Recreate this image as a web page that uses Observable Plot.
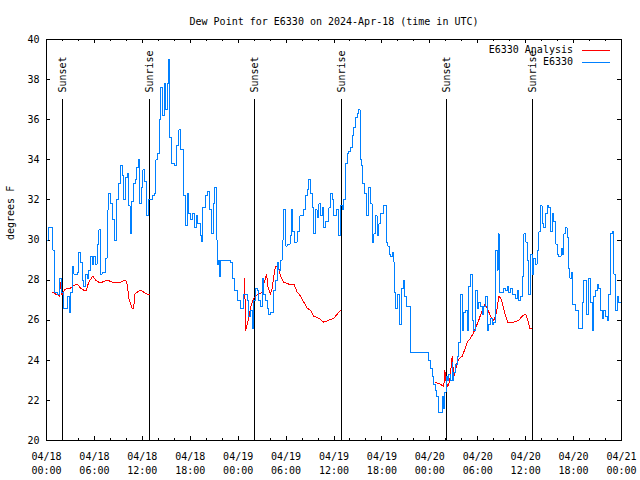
<!DOCTYPE html>
<html><head><meta charset="utf-8">
<script src="https://cdn.jsdelivr.net/npm/d3@7"></script>
<script src="https://cdn.jsdelivr.net/npm/@observablehq/plot@0.6"></script>
<style>
body{margin:0;background:#fff;}
#chart{width:640px;height:480px;}
#chart svg path, #chart svg line, #chart svg rect{shape-rendering:crispEdges;}
</style></head><body><div id="chart"></div>
<script>
const title = "Dew Point for E6330 on 2024-Apr-18 (time in UTC)";
const yLabel = "degrees F";
const seriesNames = ["E6330 Analysis", "E6330"];
const seriesColors = ["#ff0000", "#0080ff"];
const startUTC = Date.UTC(2024, 3, 18);

// E6330 observations: hours since 04/18 00:00 UTC and dew point (F)
const obsHours = [0,0.25,0.81,0.94,1.38,1.63,1.88,2.17,2.63,2.82,3.01,3.22,3.44,3.88,4.04,4.26,4.47,4.67,4.88,5.10,5.30,5.51,5.72,5.92,6.14,6.35,6.55,6.76,6.97,7.39,7.60,7.70,7.80,8.01,8.26,8.51,8.77,9.02,9.27,9.52,9.64,9.89,10.14,10.31,10.46,10.64,10.89,11.14,11.27,11.46,11.65,11.90,12.08,12.27,12.52,12.77,13.02,13.27,13.52,13.71,13.90,14.09,14.28,14.53,14.78,14.96,15.09,15.28,15.46,15.65,16.03,16.28,16.59,16.84,17.16,17.41,17.66,17.84,18.03,18.28,18.53,18.72,18.91,19.28,19.41,19.53,19.91,20.16,20.41,20.66,20.85,21.04,21.29,21.41,21.54,21.66,21.85,23.04,23.29,23.54,23.92,24.29,24.63,25.13,25.33,25.54,25.76,25.96,26.17,26.38,26.58,26.80,27.01,27.21,27.42,27.64,27.84,28.05,28.39,28.68,28.89,29.09,29.30,29.51,29.64,29.93,30.14,30.55,30.68,30.84,31.05,31.39,31.72,32.14,32.43,32.68,32.85,33.06,33.27,33.47,33.68,33.90,34.10,34.31,34.52,34.72,34.94,35.15,35.35,35.56,35.78,35.98,36.31,36.60,36.81,37.03,37.23,37.44,37.65,37.85,38.07,38.28,38.48,38.69,38.91,39.07,39.26,39.44,39.57,39.82,40.07,40.32,40.57,40.78,40.98,41.20,41.41,41.61,41.82,42.16,42.57,42.74,42.91,43.08,43.33,43.49,43.61,43.74,43.95,44.20,44.42,44.67,44.83,45.04,45.58,47.83,48.08,48.30,48.46,48.65,48.84,49.09,49.55,49.75,49.88,50.03,50.21,50.38,50.59,50.80,50.90,51.00,51.21,51.43,51.63,51.84,52.05,52.25,52.47,52.68,52.88,53.09,53.31,53.51,53.72,53.93,54.13,54.35,54.56,54.76,54.97,55.19,55.39,55.60,55.81,56.01,56.22,56.44,56.54,56.69,56.98,57.26,57.48,57.69,57.89,58.10,58.35,58.73,58.98,59.14,59.35,59.57,59.77,59.98,60.19,60.39,60.61,60.82,61.02,61.23,61.45,61.65,61.86,62.07,62.27,62.48,62.70,62.90,63.11,63.32,63.52,63.74,63.95,64.11,64.43,64.61,64.78,64.99,65.20,65.36,65.55,65.74,65.87,66.24,66.65,67.08,67.28,67.62,67.87,68.12,68.33,68.53,68.75,68.96,69.16,69.37,69.62,69.79,70.00,70.21,70.41,70.62,70.84,71.04,71.25,71.46,71.66,72.0];
const obsValues = [30.0,30.6,29.5,27.4,27.3,28.1,27.4,26.6,27.2,26.4,27.4,28.7,28.3,28.4,29.4,28.9,28.0,27.7,28.3,28.1,28.5,29.2,28.8,29.2,28.8,29.8,30.5,28.3,28.4,29.1,30.3,31.5,32.3,31.8,31.0,30.0,32.0,32.8,33.7,33.2,32.0,33.1,33.3,31.7,30.3,31.9,32.8,33.0,33.6,34.0,31.8,32.6,33.5,32.9,31.2,32.0,32.0,32.2,32.3,34.0,34.3,36.0,37.6,36.2,37.8,36.5,37.8,39.0,35.1,33.8,33.7,34.7,35.5,34.5,32.2,30.7,32.3,31.3,31.0,31.3,30.6,31.2,30.8,30.2,29.9,31.6,32.2,32.4,31.5,30.3,31.8,32.6,30.0,28.8,29.0,28.2,29.0,28.9,28.1,27.5,27.0,26.6,27.3,27.0,26.2,26.5,25.6,27.0,27.6,27.5,27.0,26.7,28.1,27.3,27.0,26.6,26.3,26.4,27.5,28.0,28.9,28.5,29.0,30.0,31.5,29.7,29.8,30.2,31.5,30.4,29.9,30.4,31.2,31.5,32.2,32.5,33.0,32.3,31.6,30.3,31.5,31.1,31.8,31.2,31.6,30.6,30.9,30.9,31.6,32.3,32.0,31.2,31.5,30.2,31.7,31.5,32.0,33.8,34.3,34.4,34.6,35.2,35.6,36.1,36.3,36.5,34.0,33.7,32.8,32.3,31.2,32.6,31.8,29.9,30.3,31.2,30.2,30.8,31.3,31.7,29.9,29.7,29.3,29.2,29.4,28.9,27.4,26.6,27.3,25.8,27.6,28.0,27.2,26.7,24.4,24.0,23.6,23.2,22.8,22.5,22.2,21.4,22.2,21.6,22.4,23.2,23.0,23.3,23.0,23.9,23.0,23.4,23.8,24.2,24.9,27.3,25.5,26.4,26.5,25.5,27.7,28.3,26.0,25.5,27.5,26.6,26.9,26.7,26.3,26.7,27.2,25.5,25.8,26.1,25.8,25.9,29.5,28.5,30.3,27.4,27.4,27.6,27.5,27.7,27.4,27.6,27.3,27.1,27.5,27.0,27.2,28.2,30.3,29.9,29.0,27.3,29.3,28.3,29.1,28.8,29.5,30.4,31.7,30.8,30.6,31.3,31.7,31.6,30.4,31.3,30.9,29.8,29.3,29.2,29.6,29.3,30.3,30.6,30.1,28.6,28.1,28.4,26.8,26.5,25.6,26.9,28.0,26.3,28.1,26.9,25.5,27.2,27.5,27.8,27.6,26.5,26.1,26.5,26.2,26.0,27.3,30.3,30.4,28.3,26.5,27.2,26.9,27.2];

// E6330 Analysis: segment id, hours since 04/18 00:00 UTC, dew point (F)
const anaSegment = [1,1,1,1,1,1,1,1,1,1,1,1,1,1,1,1,1,1,1,1,1,1,1,1,1,1,1,1,1,1,1,1,1,1,
  2,2,2,2,2,2,2,2,2,2,2,2,2,2,2,2,2,2,2,2,2,2,2,2,2,2,2,2,2,2,2,2,2,
  3,3,3,3,3,3,3,3,3,3,3,3,3,3,3,3,3,3,3,3,3,3,3,3,3,3,3,3,3,3,3,3,3,3,3,3,3];
const anaHours = [0.79,1.13,1.38,1.63,1.75,1.88,2.00,2.25,2.63,3.01,3.29,3.84,4.26,4.67,4.97,5.30,5.80,6.14,6.55,6.97,7.60,8.23,9.27,9.89,10.11,10.31,10.73,10.93,11.02,11.36,11.77,12.18,12.61,12.90,
  24.79,24.96,25.13,25.33,25.54,25.83,26.17,26.58,27.01,27.21,27.55,27.76,28.05,28.26,28.46,28.68,29.09,29.30,29.71,30.34,30.97,31.39,31.81,32.22,32.64,33.06,33.47,34.10,34.72,35.35,35.98,36.40,36.81,
  48.71,49.34,49.75,49.88,50.00,50.25,50.50,50.80,51.00,51.21,51.43,51.72,52.05,52.25,52.68,53.09,53.38,53.72,54.13,54.47,54.88,55.19,55.60,56.01,56.35,56.64,56.85,57.06,57.35,57.76,58.52,59.14,59.57,59.98,60.19,60.51,60.73];
const anaValues = [27.4,27.3,27.3,27.2,27.9,27.3,27.3,27.5,27.6,27.6,27.7,27.8,27.6,27.5,27.5,27.9,28.2,28.0,27.9,27.9,28.0,27.9,27.9,28.0,27.8,27.1,26.6,26.6,27.3,27.4,27.5,27.4,27.3,27.3,
  28.1,25.5,25.8,26.1,26.6,27.0,27.2,27.3,27.4,27.8,28.3,27.6,27.3,27.6,28.2,28.7,28.6,28.2,27.9,27.8,27.8,27.4,27.2,26.9,26.6,26.5,26.2,26.1,25.9,26.0,26.1,26.3,26.5,
  22.9,22.8,22.7,23.5,23.0,22.7,23.0,24.2,23.2,23.5,23.9,24.1,24.2,24.4,24.9,25.1,25.3,25.6,26.0,26.4,26.8,26.6,26.2,26.0,26.4,27.2,27.1,26.9,26.4,25.9,25.9,26.0,26.2,26.3,26.1,25.6,25.6];

const sunNames = ["Sunset", "Sunrise", "Sunset", "Sunrise", "Sunset", "Sunrise"];
const sunHours = [2.03, 12.95, 26.05, 36.93, 50.07, 60.90];

const yTicks = [20, 22, 24, 26, 28, 30, 32, 34, 36, 38, 40];
const xMajorHours = [0, 6, 12, 18, 24, 30, 36, 42, 48, 54, 60, 66, 72];
const xMinorHours = [2, 4, 8, 10, 14, 16, 20, 22, 26, 28, 32, 34, 38, 40, 44, 46, 50, 52, 56, 58, 62, 64, 68, 70];

const toDate = h => new Date(startUTC + h * 3600000);
const fmt = d3.utcFormat("%m/%d\n%H:%M");
const font = '"DejaVu Sans Mono", monospace';

const obs = obsHours.map((h, i) => ({t: toDate(h), v: obsValues[i]}));
const ana = anaHours.map((h, i) => ({t: toDate(h), v: anaValues[i], s: anaSegment[i]}));
const sun = sunHours.map((h, i) => ({t: toDate(h), name: sunNames[i]}));
const majors = xMajorHours.map(toDate);
const minors = xMinorHours.map(toDate);

const plot = Plot.plot({
  width: 640, height: 480,
  marginTop: 39, marginBottom: 40, marginLeft: 46, marginRight: 19,
  style: {fontFamily: font, fontSize: "10px", background: "#fff", color: "#000"},
  x: {type: "utc", domain: [toDate(0), toDate(72)]},
  y: {domain: [20, 40]},
  marks: [
    Plot.axisX({ticks: majors, tickSize: 0, tickPadding: 10, tickFormat: fmt, lineHeight: 1.35, label: null}),
    Plot.axisY({ticks: yTicks, tickSize: 0, tickPadding: 7, label: null}),
    Plot.tickX(majors, {x: d => d, insetTop: 397, stroke: "#000"}),
    Plot.tickX(majors, {x: d => d, insetBottom: 397, stroke: "#000"}),
    Plot.tickX(minors, {x: d => d, insetTop: 399, stroke: "#000"}),
    Plot.tickX(minors, {x: d => d, insetBottom: 399, stroke: "#000"}),
    Plot.tickY(yTicks, {y: d => d, insetRight: 571, stroke: "#000"}),
    Plot.tickY(yTicks, {y: d => d, insetLeft: 571, stroke: "#000"}),
    Plot.ruleX(sun, {x: "t", insetTop: 60, stroke: "#000", strokeWidth: 1}),
    Plot.text(sun, {x: "t", text: "name", frameAnchor: "top", dy: 53, rotate: -90, textAnchor: "start", lineAnchor: "middle", fill: "#000"}),
    Plot.line(ana, {x: "t", y: "v", z: "s", stroke: seriesColors[0], strokeWidth: 1}),
    Plot.line(obs, {x: "t", y: "v", curve: "step-after", stroke: seriesColors[1], strokeWidth: 1}),
    Plot.frame({stroke: "#000"}),
    Plot.text([title], {text: d => d, frameAnchor: "top", dy: -18, lineAnchor: "middle", fill: "#000"}),
    Plot.text([yLabel], {text: d => d, frameAnchor: "left", dx: -36, rotate: -90, lineAnchor: "middle", fill: "#000"})
  ]
});
document.getElementById("chart").appendChild(plot);

// legend (top-right, inside the frame)
const svg = d3.select(plot);
const lg = svg.append("g").attr("font-family", font).attr("font-size", 10);
seriesNames.forEach((name, i) => {
  const y = 50 + i * 12;
  lg.append("text").attr("x", 573).attr("y", y).attr("dy", "0.32em").attr("text-anchor", "end").attr("fill", "#000").text(name);
  lg.append("line").attr("x1", 582).attr("x2", 610).attr("y1", y + 0.5).attr("y2", y + 0.5).attr("stroke", seriesColors[i]).attr("stroke-width", 1.5);
});
</script></body></html>
